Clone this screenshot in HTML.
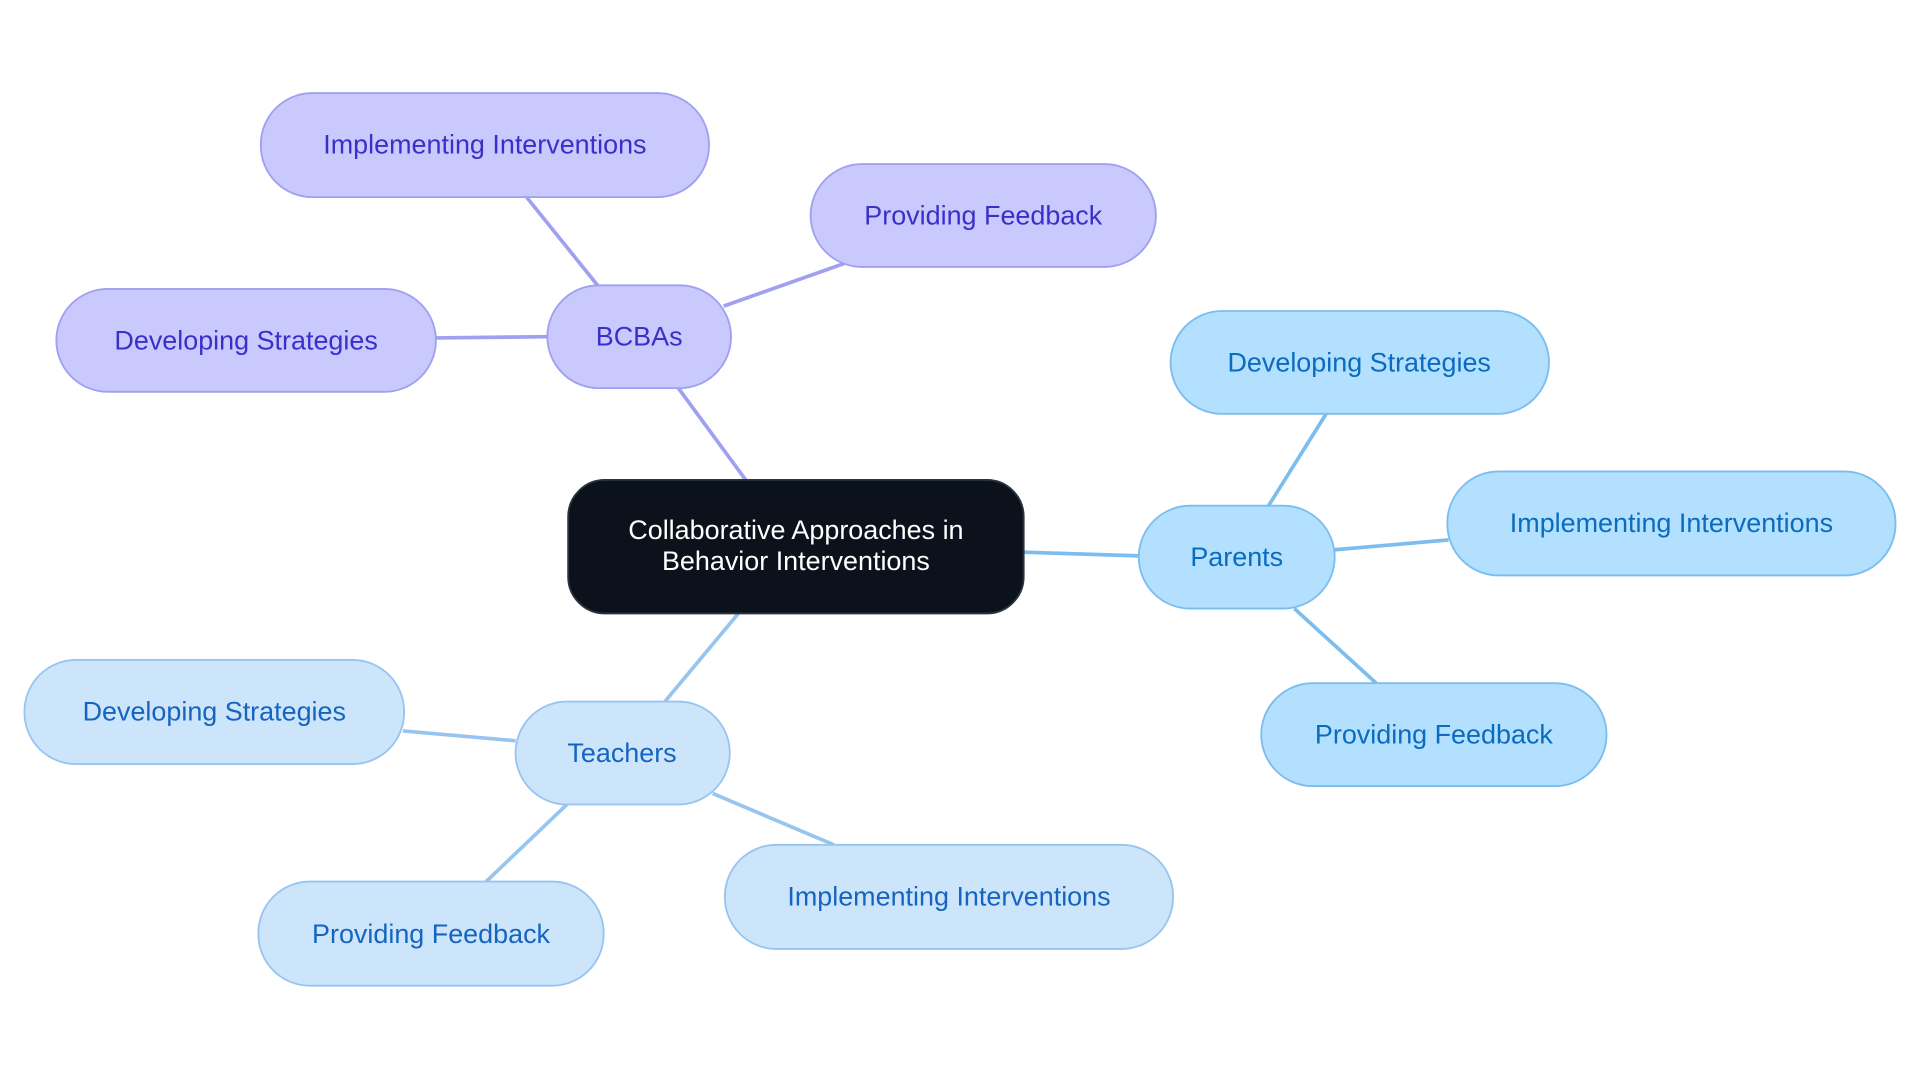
<!DOCTYPE html>
<html><head><meta charset="utf-8"><style>
html,body{margin:0;padding:0;background:#fff;}
svg{display:block;}
text{font-family:"Liberation Sans",sans-serif;font-size:22px;text-anchor:middle;dominant-baseline:central;}
</style></head><body>
<svg width="1920" height="1083" viewBox="0 0 1568 884.5" preserveAspectRatio="none">
<g stroke-width="3" fill="none">
<line x1="609" y1="392" x2="554" y2="317" stroke="#a0a0f0"/>
<line x1="488" y1="233" x2="430" y2="161" stroke="#a0a0f0"/>
<line x1="591" y1="250" x2="690" y2="215" stroke="#a0a0f0"/>
<line x1="447" y1="275" x2="356" y2="276" stroke="#a0a0f0"/>
<line x1="836" y1="451" x2="930" y2="454" stroke="#7bbdee"/>
<line x1="1036" y1="413" x2="1083" y2="338" stroke="#7bbdee"/>
<line x1="1090" y1="449" x2="1183" y2="441" stroke="#7bbdee"/>
<line x1="1057" y1="497" x2="1124" y2="558" stroke="#7bbdee"/>
<line x1="603" y1="501" x2="543" y2="573" stroke="#98c4f0"/>
<line x1="421" y1="605" x2="329" y2="597" stroke="#98c4f0"/>
<line x1="463" y1="657" x2="397" y2="720" stroke="#98c4f0"/>
<line x1="582" y1="648" x2="681" y2="690" stroke="#98c4f0"/>
</g>
<g stroke-width="1.5">
<rect x="464" y="392" width="372" height="109" rx="30" fill="#0c121b" stroke="#2a3340"/>
<g fill="#c9c9fd" stroke="#a0a0f0">
<rect x="447" y="233" width="150" height="84" rx="42"/>
<rect x="213" y="76" width="366" height="85" rx="42"/>
<rect x="662" y="134" width="282" height="84" rx="42"/>
<rect x="46" y="236" width="310" height="84" rx="42"/>
</g>
<g fill="#b3e0fe" stroke="#7bbdee">
<rect x="930" y="413" width="160" height="84" rx="42"/>
<rect x="956" y="254" width="309" height="84" rx="42"/>
<rect x="1182" y="385" width="366" height="85" rx="42"/>
<rect x="1030" y="558" width="282" height="84" rx="42"/>
</g>
<g fill="#cde5fb" stroke="#98c4f0">
<rect x="421" y="573" width="175" height="84" rx="42"/>
<rect x="20" y="539" width="310" height="85" rx="42"/>
<rect x="211" y="720" width="282" height="85" rx="42"/>
<rect x="592" y="690" width="366" height="85" rx="42"/>
</g>
</g>
<text x="650" y="433" fill="#ffffff">Collaborative Approaches in</text>
<text x="650" y="458" fill="#ffffff">Behavior Interventions</text>
<g fill="#3a2fc8">
<text x="522" y="275">BCBAs</text>
<text x="396" y="118">Implementing Interventions</text>
<text x="803" y="176">Providing Feedback</text>
<text x="201" y="278">Developing Strategies</text>
</g>
<g fill="#0b6bbf">
<text x="1010" y="455">Parents</text>
<text x="1110" y="296">Developing Strategies</text>
<text x="1365" y="427">Implementing Interventions</text>
<text x="1171" y="600">Providing Feedback</text>
</g>
<g fill="#1565c0">
<text x="508" y="615">Teachers</text>
<text x="175" y="581">Developing Strategies</text>
<text x="352" y="763">Providing Feedback</text>
<text x="775" y="732">Implementing Interventions</text>
</g>
</svg>
</body></html>
